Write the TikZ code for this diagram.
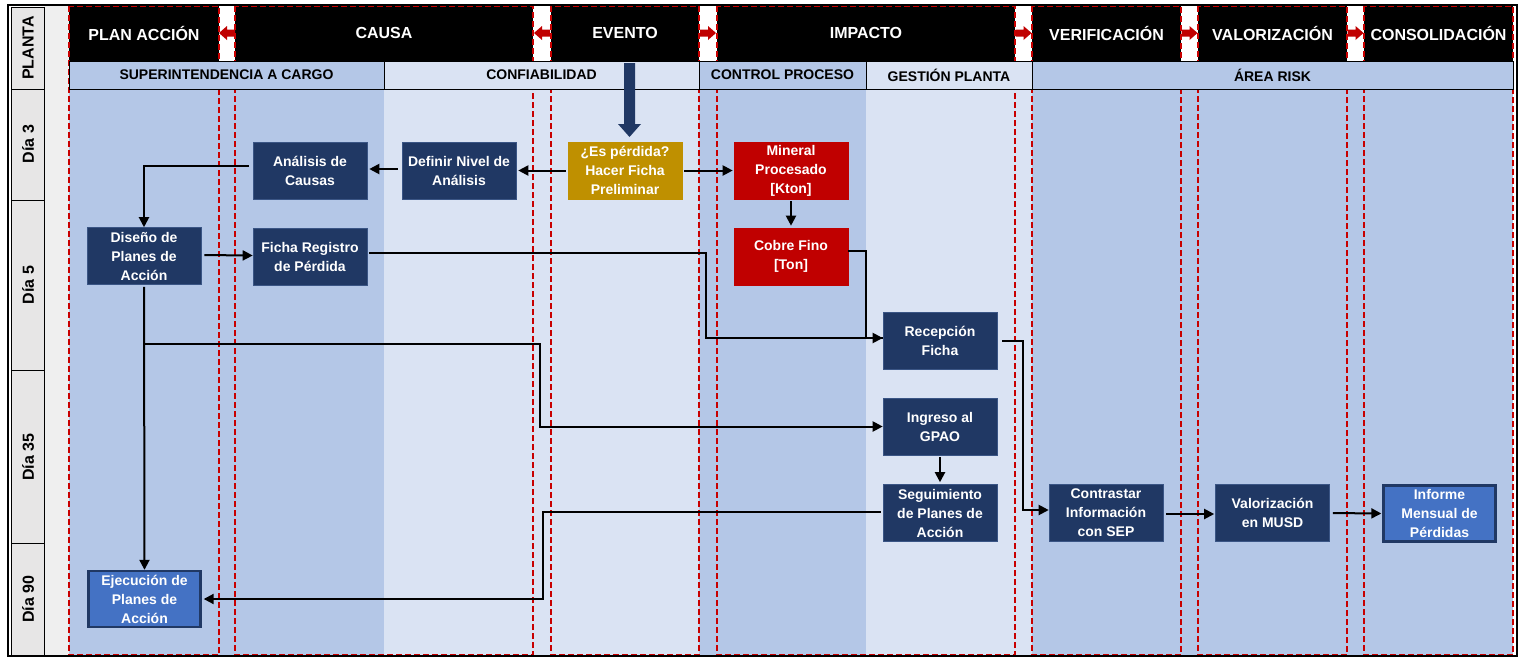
\documentclass[tikz,border=0pt]{standalone}
\usepackage{fontspec}
\setmainfont{Liberation Sans}
\usetikzlibrary{arrows.meta}
\definecolor{laneA}{HTML}{B4C7E7}
\definecolor{laneB}{HTML}{DAE3F3}
\definecolor{navy}{HTML}{203864}
\definecolor{navyedge}{HTML}{3A5585}
\definecolor{gold}{HTML}{BF9000}
\definecolor{boxred}{HTML}{C00000}
\definecolor{laneline}{HTML}{C80000}
\definecolor{greyA}{HTML}{E7E6E6}
\definecolor{greyB}{HTML}{EFEFEF}
\definecolor{blueout}{HTML}{4472C4}
\begin{document}
\begin{tikzpicture}[x=1pt,y=-1pt,
  stepbox/.style={rectangle, fill=navy, draw=navyedge, line width=0.6pt, text=white,
    font=\bfseries\fontsize{14}{19}\selectfont, align=center,
    minimum width=114pt, minimum height=57pt, inner sep=0pt},
  goldbox/.style={stepbox, fill=gold, draw=gold},
  redbox/.style={stepbox, fill=boxred, draw=boxred},
  outbox/.style={stepbox, fill=blueout, draw=navy, line width=2.4pt,
    minimum width=112pt, minimum height=56pt},
  arr/.style={-{Triangle[length=10pt,width=10pt]}, line width=2pt, black},
  line/.style={line width=2pt, black},
  lane/.style={draw=laneline, dash pattern=on 6pt off 3pt, line width=1.7pt},
  hdr/.style={text=white, font=\bfseries\fontsize{16}{18}\selectfont},
  sub/.style={draw=black, line width=0.9pt},
  subtxt/.style={text=black, font=\bfseries\fontsize{14}{16}\selectfont},
  daytxt/.style={text=black, font=\bfseries\fontsize{16}{18}\selectfont, rotate=90}]
\useasboundingbox (0,0) rectangle (1525,657);
\fill[white] (0,0) rectangle (1525,657);

% lane backgrounds
\fill[greyB] (44,6) rectangle (69,655);
\fill[laneA] (69,89) rectangle (384,655);
\fill[laneB] (384,89) rectangle (699,655);
\fill[laneA] (699,89) rectangle (866,655);
\fill[laneB] (866,89) rectangle (1032,655);
\fill[laneA] (1032,89) rectangle (1513,655);

% header blocks
\foreach \a/\b in {69/219,235/533,551/699,717/1015,1032/1181,1198/1347,1364/1513}
  \fill[black] (\a,6) rectangle (\b,61);

% header arrows between phases
\foreach \c in {227,542}
  \fill[boxred] (\c-8,33) -- (\c,26) -- (\c,29.5) -- (\c+8,29.5) -- (\c+8,36.5) -- (\c,36.5) -- (\c,40) -- cycle;
\foreach \c in {708,1023.5,1189.5,1355.5}
  \fill[boxred] (\c+8,33) -- (\c,26) -- (\c,29.5) -- (\c-8,29.5) -- (\c-8,36.5) -- (\c,36.5) -- (\c,40) -- cycle;

% dashed phase lanes
\foreach \a/\b in {69/219,235/533,551/699,717/1015,1032/1181,1198/1347,1364/1513}
  \draw[lane] (\a,6) rectangle (\b,655);

% sub-header cells
\filldraw[sub, fill=laneA] (69,61) rectangle (384,89);
\filldraw[sub, fill=laneB] (384,61) rectangle (699,89);
\filldraw[sub, fill=laneA] (699,61) rectangle (866,89);
\filldraw[sub, fill=laneB] (866,61) rectangle (1032,89);
\filldraw[sub, fill=laneA] (1032,61) rectangle (1513,89);

% phase titles
\node[hdr] (hPlan) at (144,33) {PLAN ACCIÓN};
\node[hdr] (hCausa) at (384,33) {CAUSA};
\node[hdr] (hEvento) at (625,33) {EVENTO};
\node[hdr] (hImpacto) at (866,33) {IMPACTO};
\node[hdr] (hVerif) at (1106.5,33) {VERIFICACIÓN};
\node[hdr] (hValor) at (1272.5,33) {VALORIZACIÓN};
\node[hdr] (hConsol) at (1438.5,33) {CONSOLIDACIÓN};

% responsible areas
\node[subtxt] (sSup) at (226.5,75) {SUPERINTENDENCIA A CARGO};
\node[subtxt] (sConf) at (541.5,75) {CONFIABILIDAD};
\node[subtxt] (sCtrl) at (782.5,75) {CONTROL PROCESO};
\node[subtxt] (sGest) at (949,75) {GESTIÓN PLANTA};
\node[subtxt] (sRisk) at (1272.5,75) {ÁREA RISK};

% day column
\filldraw[fill=greyA, draw=black, line width=0.9pt] (11.5,7) rectangle (44,655);
\foreach \yy in {89,200,370,543}
  \draw[black, line width=0.9pt] (11.5,\yy) -- (44,\yy);
\node[daytxt] (dPlanta) at (28,48) {PLANTA};
\node[daytxt] (d3) at (28,144) {Día 3};
\node[daytxt] (d5) at (28,285) {Día 5};
\node[daytxt] (d35) at (28,457) {Día 35};
\node[daytxt] (d90) at (28,599) {Día 90};

% outer frame
\draw[black, line width=1.4pt] (8,5) rectangle (1517,656);

% entry arrow of the event
\fill[navy] (624,63) -- (635,63) -- (635,124) -- (641,124) -- (629.5,137) -- (618,124) -- (624,124) -- cycle;

% process steps
\node[goldbox] (evt) at (625,170.5) {¿Es pérdida?\\Hacer Ficha\\Preliminar};
\node[stepbox] (defn) at (459,170.5) {Definir Nivel de\\Análisis};
\node[stepbox] (anal) at (310,170.5) {Análisis de\\Causas};
\node[redbox] (mine) at (791,170.5) {Mineral\\Procesado\\{[Kton]}};
\node[redbox] (cobre) at (791,256.5) {Cobre Fino\\{[Ton]}};
\node[stepbox] (dise) at (144,256) {Diseño de\\Planes de\\Acción};
\node[stepbox] (ficha) at (310,256.5) {Ficha Registro\\de Pérdida};
\node[stepbox] (recep) at (940,341) {Recepción\\Ficha};
\node[stepbox] (ingr) at (940,426.5) {Ingreso al\\GPAO};
\node[stepbox] (segu) at (940,513) {Seguimiento\\de Planes de\\Acción};
\node[stepbox] (contr) at (1106,513) {Contrastar\\Información\\con SEP};
\node[stepbox] (valor) at (1272.5,513) {Valorización\\en MUSD};
\node[outbox] (inform) at (1439.5,513.5) {Informe\\Mensual de\\Pérdidas};
\node[outbox] (ejec) at (144.5,599) {Ejecución de\\Planes de\\Acción};

% bend points of the routed connectors
\coordinate (bA) at (706,300);
\coordinate (bB) at (866,300);
\coordinate (tap) at (145,344);
\coordinate (bC) at (540,380);
\coordinate (bD) at (543,560);
\coordinate (bE) at (1023,430);

% connectors
\draw[arr, shorten <=2pt, shorten >=2pt] (evt.west) -- (defn.east);
\draw[arr, shorten <=2pt, shorten >=1pt] (evt.east) -- (mine.west);
\draw[arr, shorten <=4pt, shorten >=2pt] ([yshift=1.5pt]defn.west) -- ([yshift=1.5pt]anal.east);
\draw[arr, shorten <=4pt] ([yshift=4.5pt]anal.west) -| (dise.north);
\draw[arr, shorten <=2pt, shorten >=2pt] (mine.south) -- (cobre.north);
\draw[arr, shorten <=3pt] ([yshift=1pt]dise.east) -- ([yshift=1pt]ficha.west);
\draw[arr, shorten <=2pt] ([yshift=3.5pt]ficha.east) -| (bA) |- ([yshift=3pt]recep.west);
\draw[line] ([yshift=5.5pt]cobre.east) -| (bB) |- ([yshift=3pt]recep.west);
\draw[arr, shorten <=2pt] (dise.south) -- (ejec.north);
\draw[arr] (tap) -| (bC) |- (ingr.west);
\draw[arr, shorten <=2pt, shorten >=2pt] (ingr.south) -- (segu.north);
\draw[arr, shorten <=2pt, shorten >=2pt] ([yshift=1pt]segu.west) -| (bD) |- (ejec.east);
\draw[arr, shorten <=5pt] (recep.east) -| (bE) |- ([yshift=3pt]contr.west);
\draw[arr, shorten <=3pt, shorten >=1pt] ([yshift=-1pt]contr.east) -- ([yshift=-1pt]valor.west);
\draw[arr, shorten <=3pt, shorten >=1pt] (valor.east) -- (inform.west);
\end{tikzpicture}
\end{document}
